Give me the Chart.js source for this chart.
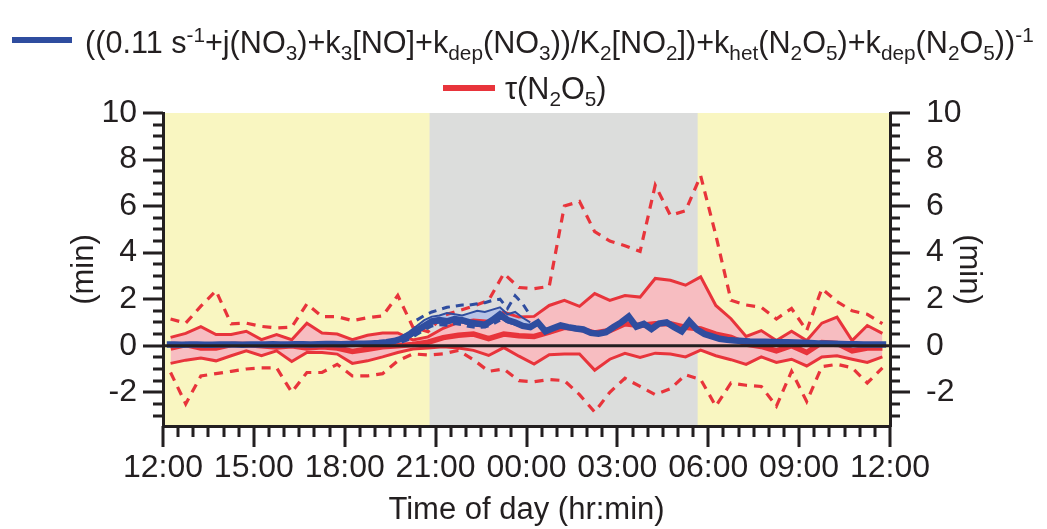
<!DOCTYPE html>
<html>
<head>
<meta charset="utf-8">
<script src="https://cdn.jsdelivr.net/npm/chart.js@4.4.1/dist/chart.umd.min.js"></script>
<style>
  body { margin: 0; background: #fff; }
  #wrap { position: relative; width: 1047px; height: 529px; }
  #legend { position: absolute; left: 0; top: 0; width: 1047px; font-family: "Liberation Sans", Arial, sans-serif; font-size: 30.6px; color: #231f20; }
  .row { position: absolute; white-space: nowrap; line-height: 1; }
  .row sub, .row sup { font-size: 0.68em; line-height: 0; }
  .row sub { vertical-align: -0.35em; }
  .row sup { vertical-align: 0.55em; }
  .swatch { position: absolute; height: 6px; }
</style>
</head>
<body>
<div id="wrap">
  <canvas id="chart"></canvas>
  <div id="legend">
    <span class="swatch" style="left:12px; top:37px; width:60px; background:#2f4d9f;"></span>
    <div class="row" style="left:85px; top:27px;">((0.11 s<sup>-1</sup>+j(NO<sub>3</sub>)+k<sub>3</sub>[NO]+k<sub>dep</sub>(NO<sub>3</sub>))/K<sub>2</sub>[NO<sub>2</sub>])+k<sub>het</sub>(N<sub>2</sub>O<sub>5</sub>)+k<sub>dep</sub>(N<sub>2</sub>O<sub>5</sub>))<sup>-1</sup></div>
    <span class="swatch" style="left:443px; top:85px; width:52px; background:#e8343b;"></span>
    <div class="row" style="left:505px; top:73px;">&tau;(N<sub>2</sub>O<sub>5</sub>)</div>
  </div>
</div>
<script>
// hours after 12:00 local time; red stats are 30 min bins, blue ones 15 min bins
const timeLabels = ["12:00", "15:00", "18:00", "21:00", "00:00", "03:00", "06:00", "09:00", "12:00"];
const yLabels = [-2, 0, 2, 4, 6, 8, 10];
const nightStart = 8.8;   // grey band (night)
const nightEnd = 17.65;

// tau(N2O5): median, 25/75 and 10/90 percentiles (min)
const redMedian = [-0.1, 0.05, -0.1, -0.1, 0.05, 0.05, 0, -0.05, 0, -0.1, -0.05, -0.1,
  -0.25, -0.15, -0.05, 0, 0.05, 0.15, 0.35, 0.45, 0.5, 0.3, 0.5, 0.43,
  0.4, 0.58, 0.79, 0.72, 0.55, 0.65, 0.94, 0.87, 0.94, 0.94, 0.79, 0.72,
  0.5, 0.36, 0.07, -0.03, -0.22, 0, -0.29, 0.14, 0.1, -0.22, -0.1, -0.1];
const redP75 = [0.36, 0.53, 0.82, 0.48, 0.48, 0.62, 0.26, 0.48, 0.26, 0.97, 0.55, 0.5,
  0.26, 0.45, 0.55, 0.55, 0.25, 0.38, 0.75, 1.0, 1.1, 1.05, 1.44, 1.23,
  1.26, 1.73, 1.95, 1.69, 2.24, 1.95, 2.16, 2.09, 2.89, 2.81, 2.6, 2.96,
  1.73, 1.16, 0.4, 0.65, 0.22, 0.62, 0.22, 0.97, 1.23, 0.22, 0.87, 0.53];
const redP25 = [-0.76, -0.62, -0.53, -0.65, -0.43, -0.22, -0.43, -0.22, -0.68, -0.29, -0.29, -0.36,
  -0.76, -0.65, -0.48, -0.29, -0.14, -0.1, -0.05, -0.1, -0.2, -0.42, -0.08, -0.45,
  -0.79, -0.39, -0.36, -0.36, -1.05, -0.58, -0.33, -0.5, -0.32, -0.36, -0.48, -0.19,
  -0.43, -0.6, -0.8, -0.48, -0.72, -0.58, -0.87, -0.48, -0.43, -0.58, -0.72, -0.48];
const redP90 = [1.15, 0.97, 1.7, 2.36, 0.94, 0.97, 0.83, 0.76, 0.8, 1.8, 1.25, 1.25,
  1.08, 1.2, 1.28, 2.16, 0.8, 0.6, 1.3, 1.5, 1.7, 1.95, 3.1, 2.5,
  2.45, 2.55, 6.0, 6.2, 4.9, 4.5, 4.3, 4.05, 6.9, 5.6, 5.8, 7.3,
  4.75, 1.95, 1.75, 1.65, 1.15, 1.6, 0.65, 2.45, 1.9, 1.5, 1.35, 0.95];
const redP10 = [-1.15, -2.5, -1.3, -1.2, -1.1, -1.0, -0.95, -0.95, -2.0, -1.15, -1.15, -0.8,
  -1.3, -1.3, -1.2, -0.65, -0.35, -0.4, -0.35, -0.2, -0.6, -1.1, -1.0, -1.5,
  -1.55, -1.45, -1.5, -2.1, -2.85, -2.0, -1.4, -1.75, -2.1, -1.85, -1.25, -1.45,
  -2.6, -1.6, -1.7, -1.75, -2.6, -1.1, -2.4, -0.9, -0.8, -0.95, -1.6, -0.95];

// steady-state lifetime expression (blue), 15 min bins
const blueMedian = [0.05, 0.05, 0.04, 0.05, 0.05, 0.04, 0.04, 0.05, 0.05, 0.05, 0.04, 0.05,
  0.05, 0.05, 0.06, 0.05, 0.05, 0.06, 0.06, 0.05, 0.06, 0.07, 0.07, 0.06,
  0.07, 0.08, 0.08, 0.1, 0.12, 0.15, 0.2, 0.3, 0.45, 0.65, 0.85, 1.05,
  1.1, 1.05, 1.15, 1.1, 1.0, 0.95, 0.9, 1.1, 1.35, 1.1, 1.0, 0.85,
  0.8, 1.0, 0.62, 0.75, 0.87, 0.8, 0.74, 0.7, 0.55, 0.52, 0.58, 0.8,
  1.0, 1.25, 0.82, 0.94, 0.72, 0.95, 1.0, 0.8, 0.62, 1.05, 0.7, 0.5,
  0.4, 0.3, 0.25, 0.22, 0.2, 0.18, 0.17, 0.17, 0.16, 0.15, 0.15, 0.14,
  0.13, 0.12, 0.1, 0.09, 0.08, 0.07, 0.06, 0.06, 0.05, 0.05, 0.05, 0.05];
const blueBandStart = 31; // first 15 min bin with percentile data
const blueP75 = [0.4, 0.6, 0.85, 1.1, 1.25, 1.3, 1.4, 1.35, 1.3, 1.4, 1.5, 1.45, 1.55, 1.65, 1.35, 1.45, 1.2, 1.0];
const blueP25 = [0.2, 0.35, 0.55, 0.75, 0.95, 1.0, 0.95, 1.05, 1.0, 0.9, 0.85, 0.85, 1.0, 1.2, 1.0, 0.9, 0.8, 0.75];
const blueP90 = [null, null, 1.1, 1.3, 1.45, 1.55, 1.65, 1.7, 1.75, 1.75, 1.8, 1.85, 1.95, 2.0, 1.6, 2.15, 1.8, 1.3];
const blueP10 = [0.15, 0.28, 0.48, 0.68, 0.85, 0.9, 0.88, 0.95, 0.9, 0.82, 0.78, 0.8, 0.92, 1.1, null, null, null, null];

const RED = "#e8343b", PINK = "#f7bdc1", BLUE = "#2f4d9f", LIGHTBLUE = "#b7c3e6", INK = "#231f20";
const YELLOW = "#f9f6c1", GREY = "#dcdddc";

// bin centres in hours after 12:00
const toPoints = (values, binHours, firstBin) =>
  values.map((v, i) => ({ x: (firstBin + i + 0.5) * binHours, y: v }));

const lineDs = (label, values, binHours, firstBin, extra) => Object.assign({
  label: label,
  data: toPoints(values, binHours, firstBin),
  pointRadius: 0,
  tension: 0,
  fill: false,
}, extra);

const datasets = [
  lineDs("blue median", blueMedian, 0.25, 0, { borderColor: BLUE, borderWidth: 6.5, order: 1 }),
  lineDs("blue p90", blueP90, 0.25, blueBandStart, { borderColor: BLUE, borderWidth: 3, borderDash: [8, 6], order: 2 }),
  lineDs("blue p10", blueP10, 0.25, blueBandStart, { borderColor: BLUE, borderWidth: 3, borderDash: [8, 6], order: 3 }),
  lineDs("blue p75", blueP75, 0.25, blueBandStart, { borderColor: BLUE, borderWidth: 2, order: 4, fill: { target: 4, above: LIGHTBLUE, below: LIGHTBLUE } }),
  lineDs("blue p25", blueP25, 0.25, blueBandStart, { borderColor: BLUE, borderWidth: 2, order: 5 }),
  lineDs("red median", redMedian, 0.5, 0, { borderColor: RED, borderWidth: 5.5, order: 6 }),
  lineDs("red p90", redP90, 0.5, 0, { borderColor: RED, borderWidth: 3.2, borderDash: [9, 7], order: 7 }),
  lineDs("red p10", redP10, 0.5, 0, { borderColor: RED, borderWidth: 3.2, borderDash: [9, 7], order: 8 }),
  lineDs("red p75", redP75, 0.5, 0, { borderColor: RED, borderWidth: 3, order: 9, fill: { target: 9, above: PINK, below: PINK } }),
  lineDs("red p25", redP25, 0.5, 0, { borderColor: RED, borderWidth: 3, order: 10 }),
];

const shading = {
  id: "shading",
  beforeDraw(chart) {
    const { ctx, chartArea: a, scales: { x } } = chart;
    ctx.save();
    ctx.fillStyle = YELLOW;
    ctx.fillRect(a.left, a.top, a.right - a.left, a.bottom - a.top);
    ctx.fillStyle = GREY;
    const x0 = x.getPixelForValue(nightStart), x1 = x.getPixelForValue(nightEnd);
    ctx.fillRect(x0, a.top, x1 - x0, a.bottom - a.top);
    ctx.restore();
  },
  afterDatasetsDraw(chart) {
    const { ctx, chartArea: a, scales: { y } } = chart;
    const py = y.getPixelForValue(0);
    ctx.save();
    ctx.strokeStyle = INK;
    ctx.lineWidth = 3;
    ctx.beginPath();
    ctx.moveTo(a.left, py);
    ctx.lineTo(a.right, py);
    ctx.stroke();
    ctx.restore();
  },
  afterDraw(chart) {
    // major / minor tick marks, drawn outward like the original
    const { ctx, chartArea: a, scales: { x, y } } = chart;
    ctx.save();
    ctx.strokeStyle = INK;
    ctx.lineWidth = 3;
    ctx.beginPath();
    for (let v = -3; v <= 10; v += 0.5) {
      const py = Math.round(y.getPixelForValue(v));
      const len = v % 2 === 0 ? 20 : 10;
      ctx.moveTo(a.left - len, py); ctx.lineTo(a.left, py);
      ctx.moveTo(a.right, py); ctx.lineTo(a.right + len, py);
    }
    for (let h = 0; h <= 24; h += 0.5) {
      const px = Math.round(x.getPixelForValue(h));
      const len = h % 3 === 0 ? 21 : 11;
      ctx.moveTo(px, a.bottom); ctx.lineTo(px, a.bottom + len);
    }
    ctx.stroke();
    ctx.restore();
  }
};

const tickFont = { family: "'Liberation Sans', Arial, sans-serif", size: 32 };
const titleFont = { family: "'Liberation Sans', Arial, sans-serif", size: 31 };

new Chart(document.getElementById("chart"), {
  type: "line",
  data: { datasets: datasets },
  plugins: [shading],
  options: {
    responsive: true,
    maintainAspectRatio: false,
    animation: false,
    layout: { padding: { top: 113, left: 0, right: 0, bottom: 0 } },
    plugins: {
      legend: { display: false },
      tooltip: { enabled: false },
      filler: { drawTime: "beforeDatasetsDraw" },
    },
    scales: {
      x: {
        type: "linear",
        min: 0,
        max: 24,
        afterFit: (s) => { s.height = 103; },
        afterBuildTicks: (s) => { s.ticks = timeLabels.map((t, i) => ({ value: i * 3 })); },
        grid: { display: true, drawOnChartArea: false, drawTicks: false },
        border: { display: true, color: INK, width: 3 },
        ticks: { font: tickFont, color: INK, padding: 23, maxRotation: 0, autoSkip: false,
          callback: (v, i) => timeLabels[i] },
        title: { display: true, text: "Time of day (hr:min)", font: titleFont, color: INK, padding: { top: 0, bottom: 0 } },
      },
      y: {
        position: "left",
        min: -3.45,
        max: 10,
        afterFit: (s) => { s.width = 163; },
        afterBuildTicks: (s) => { s.ticks = yLabels.map((v) => ({ value: v })); },
        grid: { display: true, drawOnChartArea: false, drawTicks: false },
        border: { display: true, color: INK, width: 3 },
        ticks: { font: tickFont, color: INK, padding: 26, callback: (v) => String(v) },
        title: { display: true, text: "(min)", font: titleFont, color: INK, padding: { top: 66, bottom: 0 } },
      },
      y2: {
        position: "right",
        min: -3.45,
        max: 10,
        afterFit: (s) => { s.width = 157; },
        afterBuildTicks: (s) => { s.ticks = yLabels.map((v) => ({ value: v })); },
        grid: { display: true, drawOnChartArea: false, drawTicks: false },
        border: { display: true, color: INK, width: 3 },
        ticks: { font: tickFont, color: INK, padding: 36, callback: (v) => String(v) },
        title: { display: true, text: "(min)", font: titleFont, color: INK, padding: { top: 60, bottom: 0 } },
      },
    },
  },
});
</script>
</body>
</html>
